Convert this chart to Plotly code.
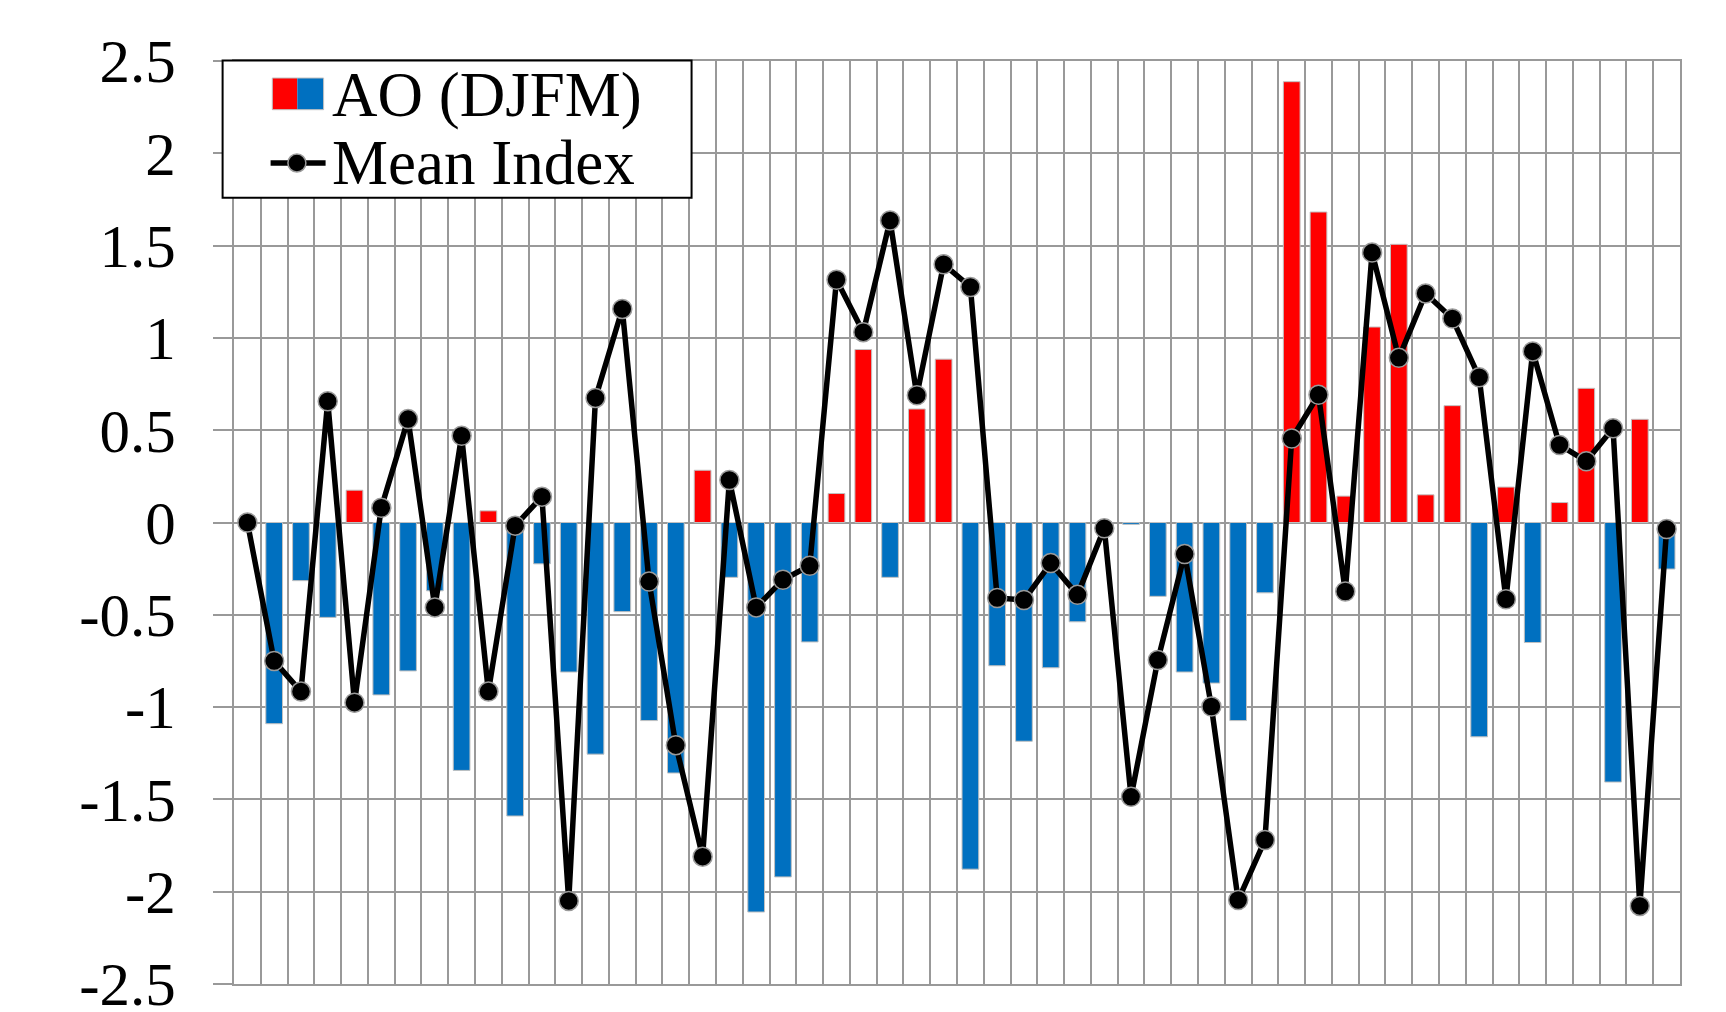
import plotly.graph_objects as go

# ---- data ----
index = list(range(1, 55))
ao_djfm = [None, -1.09, -0.315, -0.514, 0.175, -0.934, -0.804, -0.37, -1.343, 0.063,
           -1.59, -0.224, -0.81, -1.255, -0.483, -1.073, -1.357, 0.283, -0.297, -2.11,
           -1.92, -0.647, 0.157, 0.937, -0.297, 0.615, 0.885, -1.878, -0.776, -1.185,
           -0.787, -0.538, -0.02, -0.01, -0.4, -0.81, -0.87, -1.073, -0.381, 2.388,
           1.682, 0.143, 1.059, 1.507, 0.150, 0.633, -1.161, 0.192, -0.65, 0.108,
           0.727, -1.406, 0.559, -0.252]
mean_index = [0, -0.75, -0.916, 0.657, -0.976, 0.08, 0.56, -0.46, 0.47, -0.916,
              -0.017, 0.14, -2.05, 0.675, 1.157, -0.32, -1.206, -1.81, 0.23, -0.46,
              -0.31, -0.234, 1.315, 1.031, 1.636, 0.689, 1.399, 1.276, -0.409, -0.42,
              -0.22, -0.392, -0.031, -1.486, -0.745, -0.171, -0.997, -2.045, -1.72, 0.455,
              0.692, -0.374, 1.462, 0.892, 1.241, 1.105, 0.787, -0.416, 0.927, 0.42,
              0.332, 0.51, -2.077, -0.035]
y_tickvals = [2.5, 2, 1.5, 1, 0.5, 0, -0.5, -1, -1.5, -2, -2.5]
y_ticktext = ["2.5", "2", "1.5", "1", "0.5", "0", "-0.5", "-1", "-1.5", "-2", "-2.5"]
legend_labels = ["AO (DJFM)", "Mean Index"]

RED = "#FF0000"
BLUE = "#0070C0"
GRID = "#999999"
FONT = "Liberation Serif"

bar_colors = [RED if (v is not None and v >= 0) else BLUE for v in ao_djfm]

fig = go.Figure()
fig.add_trace(go.Bar(
    x=index, y=ao_djfm, name=legend_labels[0],
    marker=dict(color=bar_colors, line=dict(color="#c0c0c0", width=1)),
    showlegend=False,
))
fig.add_trace(go.Scatter(
    x=index, y=mean_index, name=legend_labels[1], mode="lines+markers",
    line=dict(color="black", width=5.5),
    marker=dict(color="black", size=19, line=dict(color="#9a9a9a", width=1.5)),
    showlegend=False,
))

W, H = 1726, 1012
L, R, T, B = 234.4, 45.5, 61.3, 27.7
pw, ph = W - L - R, H - T - B

def px(xp):
    return (xp - L) / pw

def py(yp):
    return (H - B - yp) / ph

shapes = []
# legend box
shapes.append(dict(type="rect", xref="paper", yref="paper",
                   x0=px(223), x1=px(692), y0=py(198), y1=py(60.7),
                   line=dict(color="black", width=2), fillcolor="white", layer="above"))
# red/blue split swatch
shapes.append(dict(type="rect", xref="paper", yref="paper",
                   x0=px(272.7), x1=px(297.7), y0=py(110), y1=py(78.3),
                   line=dict(width=0), fillcolor=RED, layer="above"))
shapes.append(dict(type="rect", xref="paper", yref="paper",
                   x0=px(297.7), x1=px(324), y0=py(110), y1=py(78.3),
                   line=dict(width=0), fillcolor=BLUE, layer="above"))
shapes.append(dict(type="rect", xref="paper", yref="paper",
                   x0=px(272.7), x1=px(324), y0=py(110), y1=py(78.3),
                   line=dict(color="#c0c0c0", width=1), fillcolor="rgba(0,0,0,0)", layer="above"))
# line + marker sample
shapes.append(dict(type="line", xref="paper", yref="paper",
                   x0=px(271), x1=px(326), y0=py(163.3), y1=py(163.3),
                   line=dict(color="black", width=5.5), layer="above"))
shapes.append(dict(type="circle", xref="paper", yref="paper",
                   x0=px(297.3 - 9), x1=px(297.3 + 9), y0=py(163.3 + 9), y1=py(163.3 - 9),
                   line=dict(color="#9a9a9a", width=1.5), fillcolor="black", layer="above"))

annotations = [
    dict(text=legend_labels[0], xref="paper", yref="paper", x=px(330.7), y=py(95.4),
         xanchor="left", yanchor="middle", showarrow=False,
         font=dict(family=FONT, size=63, color="black")),
    dict(text=legend_labels[1], xref="paper", yref="paper", x=px(330.7), y=py(162.8),
         xanchor="left", yanchor="middle", showarrow=False,
         font=dict(family=FONT, size=63, color="black")),
]

fig.update_layout(
    width=W, height=H,
    margin=dict(l=L, r=R, t=T, b=B, pad=0),
    paper_bgcolor="white", plot_bgcolor="white",
    bargap=0.375,
    showlegend=False,
    shapes=shapes, annotations=annotations,
    font=dict(family=FONT, size=60, color="black"),
    xaxis=dict(range=[0.5, 54.5], tick0=0.5, dtick=1, showticklabels=False,
               showgrid=True, gridcolor=GRID, gridwidth=2, ticks="",
               showline=True, mirror=True, linecolor=GRID, linewidth=2,
               zeroline=False, automargin=False),
    yaxis=dict(range=[-2.5, 2.5], tickvals=y_tickvals, ticktext=y_ticktext,
               showgrid=True, gridcolor=GRID, gridwidth=2,
               ticks="outside", ticklen=19, tickwidth=2, tickcolor=GRID,
               ticklabelstandoff=25, ticklabeloverflow="allow",
               showline=True, mirror=True, linecolor=GRID, linewidth=2,
               zeroline=False, automargin=False,
               tickfont=dict(family=FONT, size=61, color="black")),
)

fig.write_html("out.html", config={"displayModeBar": False},
               post_script="document.body.style.margin='0';document.body.style.overflow='hidden';")
